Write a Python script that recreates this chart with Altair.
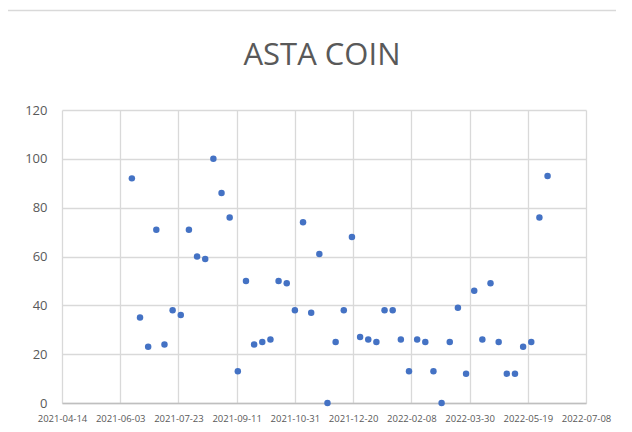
import altair as alt
import pandas as pd

dates = [
    "2021-06-13", "2021-06-20", "2021-06-27", "2021-07-04", "2021-07-11", "2021-07-18",
    "2021-07-25", "2021-08-01", "2021-08-08", "2021-08-15", "2021-08-22", "2021-08-29",
    "2021-09-05", "2021-09-12", "2021-09-19", "2021-09-26", "2021-10-03", "2021-10-10",
    "2021-10-17", "2021-10-24", "2021-10-31", "2021-11-07", "2021-11-14", "2021-11-21",
    "2021-11-28", "2021-12-05", "2021-12-12", "2021-12-19", "2021-12-26", "2022-01-02",
    "2022-01-09", "2022-01-16", "2022-01-23", "2022-01-30", "2022-02-06", "2022-02-13",
    "2022-02-20", "2022-02-27", "2022-03-06", "2022-03-13", "2022-03-20", "2022-03-27",
    "2022-04-03", "2022-04-10", "2022-04-17", "2022-04-24", "2022-05-01", "2022-05-08",
    "2022-05-15", "2022-05-22", "2022-05-29", "2022-06-05",
]
values = [
    92, 35, 23, 71, 24, 38, 36, 71, 60, 59, 100, 86, 76, 13, 50, 24, 25, 26, 50, 49,
    38, 74, 37, 61, 0, 25, 38, 68, 27, 26, 25, 38, 38, 26, 13, 26, 25, 13, 0, 25,
    39, 12, 46, 26, 49, 25, 12, 12, 23, 25, 76, 93,
]
x_ticks = [
    (2021, 4, 14), (2021, 6, 3), (2021, 7, 23), (2021, 9, 11), (2021, 10, 31),
    (2021, 12, 20), (2022, 2, 8), (2022, 3, 30), (2022, 5, 19), (2022, 7, 8),
]
y_ticks = [0, 20, 40, 60, 80, 100, 120]
title_text = "ASTA COIN"

df = pd.DataFrame({"date": dates, "value": values})

def dt(t):
    return alt.DateTime(year=t[0], month=t[1], date=t[2], utc=True)

TEXT = "#595959"
GRID = "#d9d9d9"

points = alt.Chart(df).mark_circle(size=42, color="#4472C4", opacity=1).encode(
    x=alt.X(
        "date:T",
        scale=alt.Scale(type="utc", domain=[dt(x_ticks[0]), dt(x_ticks[-1])], nice=False),
        axis=alt.Axis(
            values=[dt(t) for t in x_ticks],
            labelExpr="utcFormat(datum.value, '%Y-%m-%d')",
            title=None,
            grid=True,
            gridColor=GRID,
            gridWidth=1.3,
            domainColor="#bfbfbf",
            domainWidth=1.3,
            ticks=False,
            labelFontSize=9.5,
            labelColor=TEXT,
            labelFont="Open Sans",
            labelPadding=10,
            labelFlush=False,
            labelOverlap=False,
        ),
    ),
    y=alt.Y(
        "value:Q",
        scale=alt.Scale(domain=[0, 120], nice=False),
        axis=alt.Axis(
            values=y_ticks,
            title=None,
            grid=True,
            gridColor=GRID,
            gridWidth=1.3,
            domain=False,
            ticks=False,
            labelFontSize=13,
            labelColor=TEXT,
            labelFont="Open Sans",
            labelPadding=15,
        ),
    ),
)

one = pd.DataFrame({"t": [title_text]})

border = alt.Chart(one).mark_rect(
    filled=False, stroke=GRID, strokeWidth=1.3
).encode(
    x=alt.value(-57.5), x2=alt.value(620), y=alt.value(-99.5), y2=alt.value(400)
)

title = alt.Chart(one).mark_text(
    font="Open Sans", fontSize=31, color=TEXT, align="center", baseline="alphabetic"
).encode(
    text="t:N", x=alt.value(260), y=alt.value(-45)
)

chart = alt.layer(border, title, points).properties(
    width=524,
    height=293,
    autosize=alt.AutoSizeParams(type="none"),
    padding={"left": 54, "top": 102, "right": 30, "bottom": 20},
).configure_view(stroke="transparent")

chart.save("out.html", embed_options={"renderer": "svg", "actions": False})
